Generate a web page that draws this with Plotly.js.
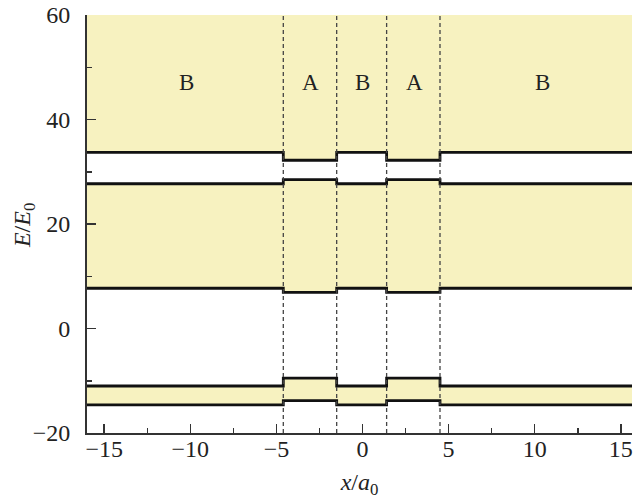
<!DOCTYPE html>
<html>
<head>
<meta charset="utf-8">
<script src="https://cdn.plot.ly/plotly-3.0.1.min.js"></script>
<style>html,body{margin:0;padding:0;background:#fff;}#chart{width:636px;height:504px;}</style>
</head>
<body>
<div id="chart"></div>
<script>
// ---- data ----
const xRange = [-16, 15.65];
const yRange = [-20, 60];
const boundaries = [-4.6, -1.5, 1.4, 4.5];          // interfaces between layers (x/a0)
const regions = ['B', 'A', 'B', 'A', 'B'];          // layer material, left to right
const levelsB = [33.7, 27.7, 7.7, -11.0, -14.6];    // band edges in B layers (E/E0)
const levelsA = [32.2, 28.5, 6.9, -9.5, -13.8];     // band edges in A layers (E/E0)
const labelX = [-10.2, -3.0, 0.0, 3.0, 10.45];
const labelY = [47, 47, 47, 47, 47];
const topLevel = 60;
const xTicks = [-15, -10, -5, 0, 5, 10, 15];
const xMinorTicks = [-12.5, -7.5, -2.5, 2.5, 7.5, 12.5];
const yTicks = [-20, 0, 20, 40, 60];
const yMinorTicks = [-10, 10, 30, 50];
const xTitle = '<i>x</i>/<i>a</i><sub>0</sub>';
const yTitle = '<i>E</i>/<i>E</i><sub>0</sub>';

const yellow = '#f7f2c0';
const serif = 'Liberation Serif';

function stepLine(levB, levA) {
  const lev = r => (r === 'B' ? levB : levA);
  const xs = [xRange[0]], ys = [lev(regions[0])];
  for (let i = 0; i < boundaries.length; i++) {
    xs.push(boundaries[i]); ys.push(lev(regions[i]));
    xs.push(boundaries[i]); ys.push(lev(regions[i + 1]));
  }
  xs.push(xRange[1]); ys.push(lev(regions[regions.length - 1]));
  return {x: xs, y: ys};
}

const traces = [];
function addLine(levB, levA, fill, visibleLine) {
  const s = stepLine(levB, levA);
  traces.push({
    x: s.x, y: s.y, type: 'scatter', mode: 'lines',
    line: {color: visibleLine ? '#111' : 'rgba(0,0,0,0)', width: visibleLine ? 2.8 : 0},
    fill: fill ? 'tonexty' : 'none', fillcolor: yellow,
    hoverinfo: 'skip', showlegend: false
  });
}
addLine(topLevel, topLevel, false, false);
addLine(levelsB[0], levelsA[0], true, true);
addLine(levelsB[1], levelsA[1], false, true);
addLine(levelsB[2], levelsA[2], true, true);
addLine(levelsB[3], levelsA[3], false, true);
addLine(levelsB[4], levelsA[4], true, true);

const shapes = boundaries.map(b => ({
  type: 'line', xref: 'x', yref: 'paper', x0: b, x1: b, y0: 0, y1: 1,
  line: {color: '#444', width: 1.3, dash: '4px,3px'}, layer: 'above'
}));

const annotations = regions.map((r, i) => ({
  x: labelX[i], y: labelY[i], xref: 'x', yref: 'y', text: r, showarrow: false,
  font: {family: serif, size: 23, color: '#222'}
}));
// y-axis title placed as a rotated annotation to match the reference position
annotations.push({
  xref: 'paper', yref: 'paper', x: 0, y: 0.495, xanchor: 'center', yanchor: 'middle',
  xshift: -63, text: yTitle, textangle: -90, showarrow: false,
  font: {family: serif, size: 24, color: '#222'}
});

const tickFont = {family: serif, size: 24, color: '#222'};

const layout = {
  width: 636, height: 504,
  margin: {l: 87, r: 4, t: 15, b: 71, pad: 0},
  paper_bgcolor: '#fff', plot_bgcolor: '#fff',
  font: tickFont,
  showlegend: false,
  shapes: shapes,
  annotations: annotations,
  xaxis: {
    range: xRange, showgrid: false, zeroline: false,
    showline: true, linecolor: '#333', linewidth: 2, mirror: false,
    ticks: 'inside', ticklen: 9, tickwidth: 1.5, tickcolor: '#333',
    tickvals: xTicks,
    minor: {tickvals: xMinorTicks, ticks: 'inside', ticklen: 5, tickwidth: 1.5, tickcolor: '#333'},
    tickfont: tickFont, ticklabelstandoff: -7,
    title: {text: xTitle, font: {family: serif, size: 24, color: '#222'}, standoff: 12}
  },
  yaxis: {
    range: yRange, showgrid: false, zeroline: false,
    showline: true, linecolor: '#333', linewidth: 2, mirror: false,
    ticks: 'inside', ticklen: 9, tickwidth: 1.5, tickcolor: '#333',
    tickvals: yTicks,
    minor: {tickvals: yMinorTicks, ticks: 'inside', ticklen: 5, tickwidth: 1.5, tickcolor: '#333'},
    tickfont: tickFont, ticklabelstandoff: 10
  }
};

Plotly.newPlot('chart', traces, layout, {displayModeBar: false, staticPlot: true});
</script>
</body>
</html>
